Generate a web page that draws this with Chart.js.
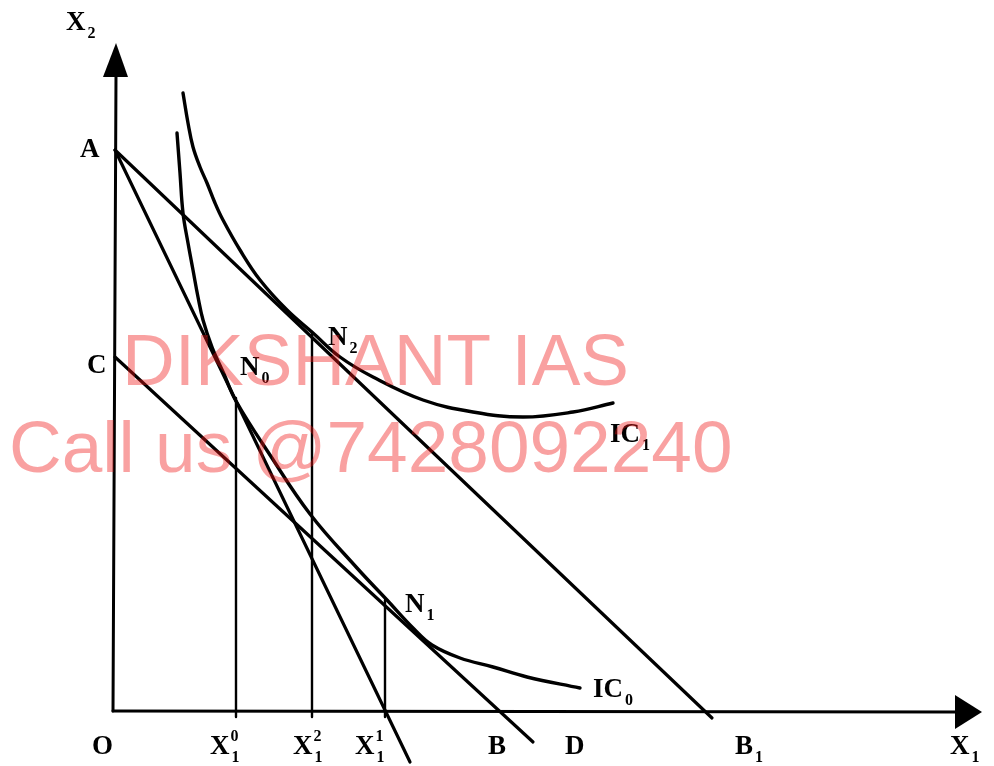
<!DOCTYPE html>
<html>
<head>
<meta charset="utf-8">
<script src="https://cdn.jsdelivr.net/npm/chart.js@4/dist/chart.umd.min.js"></script>
<style>
  body { margin: 0; background: #fff; }
  canvas { display: block; }
</style>
</head>
<body>
<canvas id="diagram" width="994" height="766"></canvas>
<script>
// quantities, origin O = (0,0)
const pointA = [1, 561];
const pointC = [1, 354];
const budgetAB1 = [pointA, [598, -7]];
const budgetAB = [pointA, [296, -51]];
const budgetCD = [pointC, [419, -31]];
const ic1 = [[69, 618], [74, 588], [79, 564], [86, 544], [93, 528], [101, 508], [109, 491], [126, 461],
  [146, 431], [173, 401], [199, 378], [226, 354], [259, 334], [309, 311], [359, 299], [409, 294],
  [459, 299], [499, 308]];
const ic0 = [[63, 578], [66, 538], [69, 498], [74, 468], [79, 441], [84, 414], [89, 391], [98, 364],
  [110, 337], [122, 310], [156, 256], [196, 197], [243, 143], [273, 111], [300, 82], [318, 66],
  [346, 53], [379, 44], [413, 34], [466, 23]];
const xTicks = [122, 198, 271];          // X0_1, X2_1, X1_1
const dropHeights = [313, 379, 111];     // N0, N2, N1
const xAxisEnd = 846;
const yAxisEnd = 636;

const toPts = arr => arr.map(p => ({ x: p[0], y: p[1] }));

const datasets = [
  { data: toPts(budgetAB1), borderWidth: 3.2 },
  { data: toPts(budgetAB), borderWidth: 3.2 },
  { data: toPts(budgetCD), borderWidth: 3.2 },
  { data: toPts(ic1), borderWidth: 3.4, tension: 0.4 },
  { data: toPts(ic0), borderWidth: 3.4, tension: 0.4 },
  // axes
  { data: [{ x: -1, y: 0 }, { x: xAxisEnd, y: -1 }], borderWidth: 3 },
  { data: [{ x: -1, y: 0 }, { x: 2, y: yAxisEnd }], borderWidth: 3 }
];
xTicks.forEach((x, i) => {
  datasets.push({ data: [{ x: x, y: -6 }, { x: x, y: dropHeights[i] }], borderWidth: 2.4 });
});
datasets.forEach(d => {
  d.showLine = true;
  d.borderColor = '#000';
  d.pointRadius = 0;
  d.fill = false;
});

// label text, drawn at data positions
const labels = [
  { t: 'X', sub: '2', x: -48, y: 681 },
  { t: 'A', x: -34, y: 554 },
  { t: 'C', x: -27, y: 338 },
  { t: 'O', x: -22, y: -43 },
  { t: 'X', sup: '0', sub: '1', x: 96, y: -43 },
  { t: 'X', sup: '2', sub: '1', x: 179, y: -43 },
  { t: 'X', sup: '1', sub: '1', x: 241, y: -43 },
  { t: 'B', x: 374, y: -43 },
  { t: 'D', x: 451, y: -43 },
  { t: 'B', sub: '1', x: 621, y: -43 },
  { t: 'X', sub: '1', x: 836, y: -43 },
  { t: 'N', sub: '0', x: 126, y: 336 },
  { t: 'N', sub: '2', x: 214, y: 366 },
  { t: 'N', sub: '1', x: 291, y: 99 },
  { t: 'IC', sub: '1', x: 496, y: 269 },
  { t: 'IC', sub: '0', x: 479, y: 14 }
];

const drawing = {
  id: 'drawing',
  afterDatasetsDraw(chart) {
    const { ctx, scales: { x, y } } = chart;
    ctx.save();
    ctx.fillStyle = '#000';
    // arrow heads
    ctx.beginPath();
    ctx.moveTo(x.getPixelForValue(2), y.getPixelForValue(668));
    ctx.lineTo(x.getPixelForValue(-11), y.getPixelForValue(634));
    ctx.lineTo(x.getPixelForValue(14), y.getPixelForValue(634));
    ctx.closePath();
    ctx.fill();
    ctx.beginPath();
    ctx.moveTo(x.getPixelForValue(868), y.getPixelForValue(-1));
    ctx.lineTo(x.getPixelForValue(841), y.getPixelForValue(16));
    ctx.lineTo(x.getPixelForValue(841), y.getPixelForValue(-18));
    ctx.closePath();
    ctx.fill();

    ctx.textBaseline = 'alphabetic';
    labels.forEach(l => {
      const px = x.getPixelForValue(l.x);
      const py = y.getPixelForValue(l.y);
      ctx.font = 'bold 27px "Liberation Serif", serif';
      ctx.fillText(l.t, px, py);
      const w = ctx.measureText(l.t).width;
      ctx.font = 'bold 16px "Liberation Serif", serif';
      if (l.sup) ctx.fillText(l.sup, px + w + 1, py - 13);
      if (l.sub) ctx.fillText(l.sub, px + w + 2, py + 8);
    });

    // watermark
    ctx.fillStyle = 'rgba(240, 20, 20, 0.4)';
    ctx.font = '73px "Liberation Sans", Arial, sans-serif';
    ctx.fillText('DIKSHANT IAS', 122, 385);
    ctx.fillText('Call us @7428092240', 9, 472);
    ctx.restore();
  }
};

new Chart(document.getElementById('diagram'), {
  type: 'scatter',
  data: { datasets: datasets },
  options: {
    responsive: false,
    animation: false,
    layout: { padding: 0 },
    scales: {
      x: { type: 'linear', min: -114, max: 880, display: false },
      y: { type: 'linear', min: -55, max: 711, display: false }
    },
    plugins: { legend: { display: false }, tooltip: { enabled: false } },
    elements: { line: { borderCapStyle: 'round', borderJoinStyle: 'round' } }
  },
  plugins: [drawing]
});
</script>
</body>
</html>
